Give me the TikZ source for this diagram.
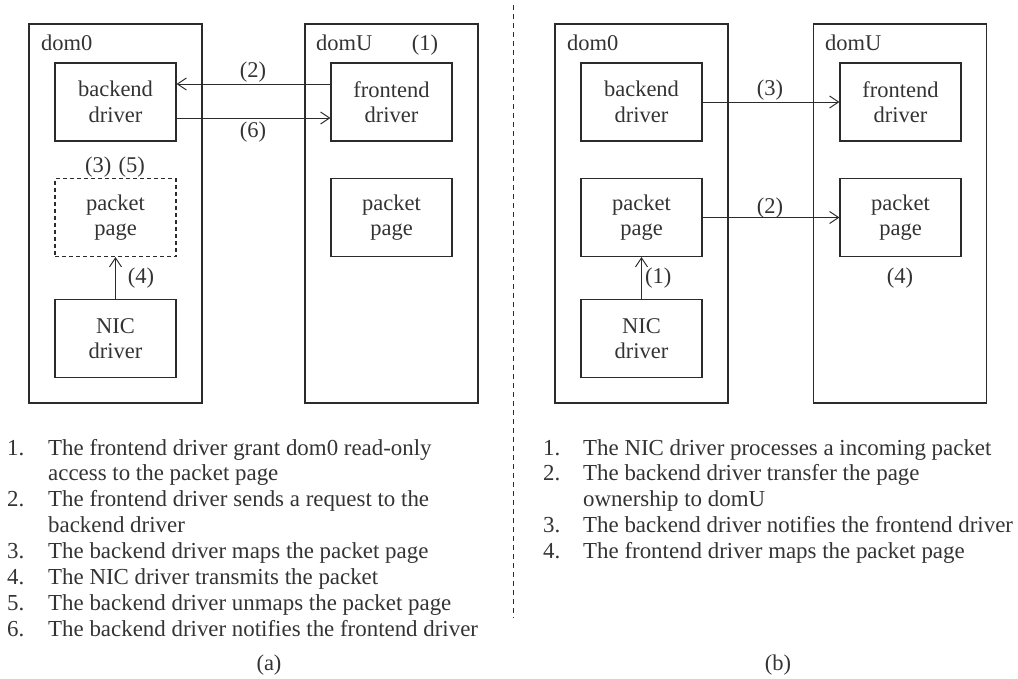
\documentclass[tikz,border=0pt]{standalone}
\usepackage{fontspec}
\setmainfont{Liberation Serif}
\usetikzlibrary{arrows.meta}
\definecolor{ink}{HTML}{2B2B2B}
\definecolor{txt}{HTML}{333333}
\tikzset{
  vmbox/.style={draw=ink, line width=1.1pt, minimum width=173pt, minimum height=379pt, inner sep=0pt},
  comp/.style={draw=ink, line width=1.1pt, minimum width=121pt, minimum height=78pt, inner sep=0pt,
    align=center, text=txt, font=\fontsize{22.5}{25.6}\selectfont},
  dashcomp/.style={comp, dash pattern=on 4pt off 3pt},
  lbl/.style={text=txt, inner sep=0pt, font=\fontsize{22.5}{25.6}\selectfont},
  item/.style={lbl, anchor=base west, font=\fontsize{22.9}{25.9}\selectfont},
  arr/.style={draw=ink, line width=1pt, -{Straight Barb[length=9pt,width=12pt]}},
  divider/.style={draw=ink, line width=1pt, dash pattern=on 5pt off 4pt},
}
\begin{document}
\begin{tikzpicture}[x=1pt,y=-1pt]
\useasboundingbox (0,0) rectangle (1018,678);

% ---------- (a) transmit path ----------
\node[vmbox] (d0a) at (115.5,213.5) {};
\node[vmbox] (dua) at (391.5,213.5) {};
\node[lbl, anchor=base west] (d0alab) at (41,50) {dom0};
\node[lbl, anchor=base west] (dualab) at (316,50) {domU};
\node[lbl, anchor=base] (sa1) at (425,50) {(1)};

\node[comp] (bea) at (115.5,102) {backend\\driver};
\node[comp] (fea) at (391.5,102) {frontend\\driver};
\node[dashcomp] (ppa) at (115.5,217.5) {packet\\page};
\node[comp] (ppua) at (391.5,217.5) {packet\\page};
\node[comp] (nica) at (115.5,338.5) {NIC\\driver};

\draw[arr] ([yshift=18pt]fea.west) -- ([yshift=18pt]bea.east);
\draw[arr] ([yshift=-16pt]bea.east) -- ([yshift=-16pt]fea.west);
\draw[arr] (nica.north) -- (ppa.south);

\node[lbl, anchor=base] (sa2) at (253,77) {(2)};
\node[lbl, anchor=base] (sa6) at (253,137) {(6)};
\node[lbl, anchor=base] (sa35) at (115,172) {(3)\,\,(5)};
\node[lbl, anchor=base] (sa4) at (141,283) {(4)};

% ---------- divider ----------
\coordinate (divtop) at (513,5);
\coordinate (divbot) at (513,618);
\draw[divider] (divtop) -- (divbot);

% ---------- (b) receive path ----------
\node[vmbox] (d0b) at (641.5,213.5) {};
\node[vmbox] (dub) at (900,213.5) {};
\node[lbl, anchor=base west] (d0blab) at (567,50) {dom0};
\node[lbl, anchor=base west] (dublab) at (825,50) {domU};

\node[comp] (beb) at (641.5,102) {backend\\driver};
\node[comp] (feb) at (900.5,102) {frontend\\driver};
\node[comp] (ppb) at (641.5,217.5) {packet\\page};
\node[comp] (ppub) at (900.5,217.5) {packet\\page};
\node[comp] (nicb) at (641.5,338.5) {NIC\\driver};

\draw[arr] (beb.east) -- (feb.west);
\draw[arr] (ppb.east) -- (ppub.west);
\draw[arr] (nicb.north) -- (ppb.south);

\node[lbl, anchor=base] (sb3) at (770,95) {(3)};
\node[lbl, anchor=base] (sb2) at (770,213) {(2)};
\node[lbl, anchor=base west] (sb1) at (645,283) {(1)};
\node[lbl, anchor=base] (sb4) at (900,283) {(4)};

% ---------- step lists ----------
\node[item] (na1) at (7,455) {1.};
\node[item] (ta1) at (48,455) {The frontend driver grant dom0 read-only};
\node[item] (ta1b) at (48,480.9) {access to the packet page};
\node[item] (na2) at (7,506.8) {2.};
\node[item] (ta2) at (48,506.8) {The frontend driver sends a request to the};
\node[item] (ta2b) at (48,532.7) {backend driver};
\node[item] (na3) at (7,558.6) {3.};
\node[item] (ta3) at (48,558.6) {The backend driver maps the packet page};
\node[item] (na4) at (7,584.5) {4.};
\node[item] (ta4) at (48,584.5) {The NIC driver transmits the packet};
\node[item] (na5) at (7,610.4) {5.};
\node[item] (ta5) at (48,610.4) {The backend driver unmaps the packet page};
\node[item] (na6) at (7,636.3) {6.};
\node[item] (ta6) at (48,636.3) {The backend driver notifies the frontend driver};

\node[item] (nb1) at (543,455) {1.};
\node[item] (tb1) at (583,455) {The NIC driver processes a incoming packet};
\node[item] (nb2) at (543,480.9) {2.};
\node[item] (tb2) at (583,480.9) {The backend driver transfer the page};
\node[item] (tb2b) at (583,506.8) {ownership to domU};
\node[item] (nb3) at (543,532.7) {3.};
\node[item] (tb3) at (583,532.7) {The backend driver notifies the frontend driver};
\node[item] (nb4) at (543,558.6) {4.};
\node[item] (tb4) at (583,558.6) {The frontend driver maps the packet page};

% ---------- captions ----------
\node[lbl] (capa) at (269,665) {(a)};
\node[lbl] (capb) at (778,665) {(b)};
\end{tikzpicture}
\end{document}
